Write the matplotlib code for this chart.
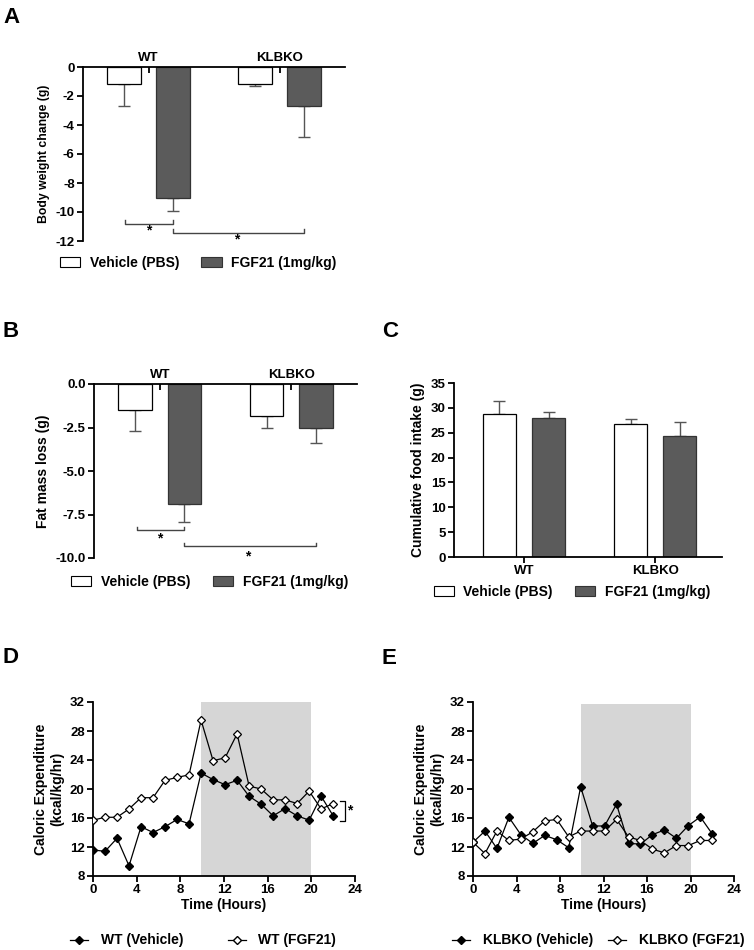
import numpy as np
import matplotlib
matplotlib.use("Agg")
import matplotlib.pyplot as plt
from matplotlib.patches import Patch
from matplotlib.lines import Line2D

plt.rcParams["font.family"] = ["Liberation Sans", "DejaVu Sans"]
plt.rcParams["font.weight"] = "bold"
plt.rcParams["axes.unicode_minus"] = False

groups = ["WT", "KLBKO"]
legend_labels = ["Vehicle (PBS)", "FGF21 (1mg/kg)"]

# A: body weight change (g)
bw_vehicle = [-1.2, -1.2]
bw_vehicle_err = [1.5, 0.12]
bw_fgf21 = [-9.0, -2.7]
bw_fgf21_err = [0.9, 2.1]

# B: fat mass loss (g)
fat_vehicle = [-1.5, -1.85]
fat_vehicle_err = [1.2, 0.67]
fat_fgf21 = [-6.9, -2.5]
fat_fgf21_err = [1.02, 0.87]

# C: cumulative food intake (g)
food_vehicle = [28.8, 26.7]
food_vehicle_err = [2.5, 1.0]
food_fgf21 = [27.9, 24.4]
food_fgf21_err = [1.3, 2.8]

# D / E: caloric expenditure (kcal/kg/hr)
hours = [0, 1.1, 2.2, 3.3, 4.4, 5.5, 6.6, 7.7, 8.8, 9.9, 11.0,
         12.1, 13.2, 14.3, 15.4, 16.5, 17.6, 18.7, 19.8, 20.9, 22.0]
wt_vehicle = [11.6, 11.4, 13.2, 9.4, 14.8, 14.0, 14.8, 15.8, 15.2, 22.2, 21.3,
              20.6, 21.2, 19.0, 17.9, 16.3, 17.3, 16.3, 15.7, 19.0, 16.3]
wt_fgf21 = [15.7, 16.1, 16.1, 17.25, 18.8, 18.8, 21.2, 21.6, 21.95, 29.5, 23.9,
            24.3, 27.6, 20.4, 20.0, 18.5, 18.5, 18.0, 19.7, 17.25, 18.0]
ko_vehicle = [12.65, 14.2, 11.8, 16.1, 13.7, 12.5, 13.6, 13.0, 11.9, 20.3, 14.9,
              14.9, 17.9, 12.5, 12.4, 13.7, 14.35, 13.2, 14.95, 16.15, 13.8]
ko_fgf21 = [12.65, 11.1, 14.2, 12.9, 13.1, 14.1, 15.6, 15.8, 13.4, 14.2, 14.2,
            14.2, 15.8, 13.4, 12.9, 11.7, 11.2, 12.2, 12.2, 12.9, 12.9]
dark_start, dark_end = 9.9, 20.0

DARK = "#5b5b5b"
ERR = "#555555"
TICK_FS = 9.5
W = 754
H = 950


def axes_px(left, top, right, bottom):
    return [left / W, 1 - bottom / H, (right - left) / W, (bottom - top) / H]


def bar_panel(ax, veh, veh_err, fgf, fgf_err, negative):
    x = np.arange(len(groups))
    off = 0.187
    zero = np.zeros(len(groups))
    ax.bar(x - off, veh, 0.255, color="white", edgecolor="black", linewidth=0.9, zorder=2)
    ax.bar(x + off, fgf, 0.255, color=DARK, edgecolor="#333333", linewidth=0.9, zorder=2)
    if negative:
        ve, fe = [veh_err, zero], [fgf_err, zero]
    else:
        ve, fe = [zero, veh_err], [zero, fgf_err]
    ax.errorbar(x - off, veh, yerr=ve, fmt="none", ecolor=ERR,
                elinewidth=1.0, capsize=4, capthick=1.0, zorder=1)
    ax.errorbar(x + off, fgf, yerr=fe, fmt="none", ecolor=ERR,
                elinewidth=1.0, capsize=4, capthick=1.0, zorder=1)
    ax.set_xlim(-0.5, 1.5)
    ax.set_xticks(x)
    ax.set_xticklabels(groups, fontsize=TICK_FS, fontweight="bold")
    ax.spines["right"].set_visible(False)
    for s in ["left", "top", "bottom"]:
        ax.spines[s].set_linewidth(1.3)
    ax.tick_params(axis="y", labelsize=TICK_FS, width=1.3, length=4, pad=2)
    if negative:
        ax.spines["bottom"].set_visible(False)
        ax.xaxis.set_ticks_position("top")
        ax.tick_params(axis="x", direction="in", width=1.3, length=4, pad=2)
    else:
        ax.spines["top"].set_visible(False)
        ax.tick_params(axis="x", width=1.3, length=4, pad=2)


def legend_bars(ax, y):
    handles = [Patch(facecolor="white", edgecolor="black", linewidth=0.8),
               Patch(facecolor=DARK, edgecolor="#333333", linewidth=0.8)]
    ax.legend(handles, legend_labels, loc="center", bbox_to_anchor=(0.44, y), ncol=2,
              frameon=False, handlelength=1.45, handleheight=0.75, handletextpad=0.7,
              columnspacing=1.6, prop={"size": 10, "weight": "bold"})


def bracket(ax, x0, x1, y, h, star_x, star_y):
    ax.plot([x0, x0, x1, x1], [y + h, y, y, y + h], color="#444444", lw=1.0, clip_on=False)
    ax.text(star_x, star_y, "*", ha="center", va="center", fontsize=10, fontweight="bold")


fig = plt.figure(figsize=(7.54, 9.5), dpi=100)

# ---- A
axA = fig.add_axes(axes_px(83, 67, 345, 241))
bar_panel(axA, bw_vehicle, bw_vehicle_err, bw_fgf21, bw_fgf21_err, True)
axA.set_ylim(-12, 0)
axA.set_yticks([0, -2, -4, -6, -8, -10, -12])
axA.set_yticklabels(["0", "-2", "-4", "-6", "-8", "-10", "-12"], fontweight="bold")
axA.set_ylabel("Body weight change (g)", fontsize=8.8, fontweight="bold")
bracket(axA, -0.18, 0.187, -10.8, 0.25, 0.0, -11.3)
bracket(axA, 0.187, 1.187, -11.45, 0.25, 0.67, -11.9)
legend_bars(axA, -0.125)

# ---- B
axB = fig.add_axes(axes_px(94, 384, 357, 558))
bar_panel(axB, fat_vehicle, fat_vehicle_err, fat_fgf21, fat_fgf21_err, True)
axB.set_ylim(-10, 0)
axB.set_yticks([0, -2.5, -5, -7.5, -10])
axB.set_yticklabels(["0.0", "-2.5", "-5.0", "-7.5", "-10.0"], fontweight="bold")
axB.set_ylabel("Fat mass loss (g)", fontsize=10, fontweight="bold")
bracket(axB, -0.175, 0.187, -8.4, 0.2, 0.0, -8.85)
bracket(axB, 0.187, 1.187, -9.33, 0.2, 0.67, -9.9)
legend_bars(axB, -0.138)

# ---- C
axC = fig.add_axes(axes_px(454, 383, 722, 557))
bar_panel(axC, food_vehicle, food_vehicle_err, food_fgf21, food_fgf21_err, False)
axC.set_xlim(-0.534, 1.51)
axC.set_ylim(0, 35)
axC.set_yticks(range(0, 36, 5))
axC.set_yticklabels([str(v) for v in range(0, 36, 5)], fontweight="bold")
axC.set_ylabel("Cumulative food intake (g)", fontsize=10, fontweight="bold")
legend_bars(axC, -0.2)


def line_panel(ax, veh, fgf, names, shade_top, legend_x, colsp):
    ax.fill_between([dark_start, dark_end], 8, shade_top, color="#d6d6d6", lw=0, zorder=0)
    ax.plot(hours, veh, color="black", lw=0.9, marker="D", ms=4.2,
            mfc="black", mec="black", zorder=3)
    ax.plot(hours, fgf, color="black", lw=0.9, marker="D", ms=4.2,
            mfc="white", mec="black", mew=0.9, zorder=3)
    ax.set_xlim(0, 24)
    ax.set_ylim(8, 32)
    ax.set_xticks(range(0, 25, 4))
    ax.set_yticks(range(8, 33, 4))
    ax.set_xticklabels([str(v) for v in range(0, 25, 4)], fontweight="bold")
    ax.set_yticklabels([str(v) for v in range(8, 33, 4)], fontweight="bold")
    for s in ["right", "top"]:
        ax.spines[s].set_visible(False)
    for s in ["left", "bottom"]:
        ax.spines[s].set_linewidth(1.3)
    ax.tick_params(labelsize=TICK_FS, width=1.3, length=4, pad=2)
    ax.set_xlabel("Time (Hours)", fontsize=10, fontweight="bold", labelpad=1)
    ax.set_ylabel("Caloric Expenditure\n(kcal/kg/hr)", fontsize=10, fontweight="bold")
    handles = [Line2D([], [], color="black", lw=0.9, marker="D", ms=4.2, mfc="black"),
               Line2D([], [], color="black", lw=0.9, marker="D", ms=4.2, mfc="white")]
    ax.legend(handles, names, loc="center", bbox_to_anchor=(legend_x, -0.37), ncol=2,
              frameon=False, handlelength=1.3, handletextpad=0.9, columnspacing=colsp,
              prop={"size": 10, "weight": "bold"})


# ---- D
axD = fig.add_axes(axes_px(93, 702, 355, 876))
line_panel(axD, wt_vehicle, wt_fgf21, ["WT (Vehicle)", "WT (FGF21)"], 32, 0.42, 3.2)
axD.plot([22.6, 23.1, 23.1, 22.6], [18.3, 18.3, 15.6, 15.6], color="black", lw=0.9,
         clip_on=False)
axD.text(23.55, 17.0, "*", ha="center", va="center", fontsize=10, fontweight="bold")

# ---- E
axE = fig.add_axes(axes_px(473, 702, 734, 876))
line_panel(axE, ko_vehicle, ko_fgf21, ["KLBKO (Vehicle)", "KLBKO (FGF21)"], 31.7, 0.48, 1.1)

# panel letters
for letter, (px, py) in {"A": (3, 23), "B": (3, 337), "C": (382, 337),
                         "D": (3, 663), "E": (382, 664)}.items():
    fig.text(px / W, 1 - py / H, letter, fontsize=16, fontweight="bold", va="baseline")

fig.savefig("out.png", dpi=100)
